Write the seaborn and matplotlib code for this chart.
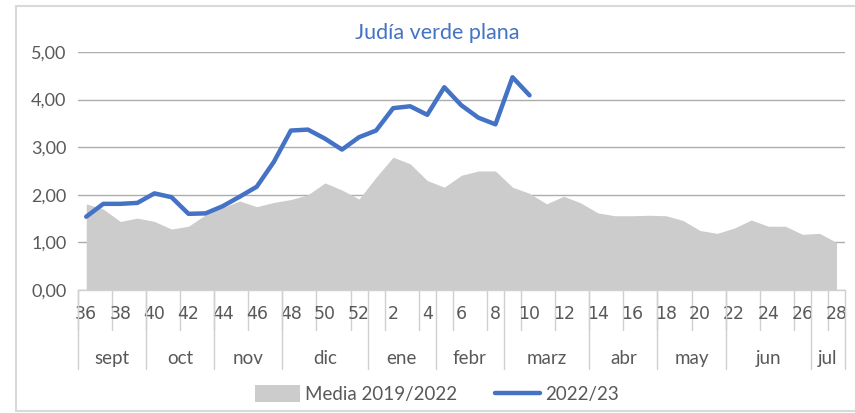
import numpy as np
import pandas as pd
import matplotlib
matplotlib.use("Agg")
import matplotlib.pyplot as plt
import matplotlib.transforms as mtransforms
from matplotlib.patches import Patch
from matplotlib.lines import Line2D
import seaborn as sns

# -------------------- datos --------------------
semanas = [36, 37, 38, 39, 40, 41, 42, 43, 44, 45, 46, 47, 48, 49, 50, 51, 52,
           1, 2, 3, 4, 5, 6, 7, 8, 9, 10, 11, 12, 13, 14, 15, 16, 17, 18, 19, 20,
           21, 22, 23, 24, 25, 26, 27, 28]

media_2019_2022 = [1.81, 1.70, 1.44, 1.51, 1.44, 1.28, 1.34, 1.58, 1.73, 1.87,
                   1.75, 1.84, 1.90, 2.00, 2.25, 2.10, 1.91, 2.37, 2.79, 2.65,
                   2.30, 2.16, 2.41, 2.50, 2.50, 2.16, 2.03, 1.81, 1.97, 1.83,
                   1.62, 1.56, 1.56, 1.57, 1.56, 1.46, 1.25, 1.19, 1.30, 1.47,
                   1.34, 1.34, 1.17, 1.19, 1.00]

campana_2022_23 = [1.54, 1.81, 1.81, 1.83, 2.03, 1.95, 1.60, 1.61, 1.76, 1.96,
                   2.17, 2.69, 3.35, 3.37, 3.18, 2.95, 3.21, 3.35, 3.82, 3.86,
                   3.68, 4.26, 3.88, 3.62, 3.48, 4.47, 4.09]

meses = ['sept', 'oct', 'nov', 'dic', 'ene', 'febr', 'marz', 'abr', 'may', 'jun', 'jul']
semanas_por_mes = [4, 4, 4, 5, 4, 4, 5, 4, 4, 5, 2]

GRIS = '#CCCCCC'
AZUL = '#4472C4'
TEXTO = '#595959'

sns.set_theme(style='white')
plt.rcParams['font.family'] = ['Lato', 'DejaVu Sans']

df = pd.DataFrame({'idx': np.arange(len(semanas)), 'media': media_2019_2022})
df_act = pd.DataFrame({'idx': np.arange(len(campana_2022_23)), 'precio': campana_2022_23})

fig = plt.figure(figsize=(8.55, 4.13), dpi=100)
ax = fig.add_axes([77.7 / 855, 123 / 413, (845 - 77.7) / 855, 238 / 413])

ax.fill_between(df['idx'], df['media'], 0, color=GRIS, lw=0, zorder=1)
sns.lineplot(data=df_act, x='idx', y='precio', color=AZUL, lw=3.2, ax=ax, zorder=3,
             solid_capstyle='round')

ax.set_xlim(-0.5, len(semanas) - 0.5)
ax.set_ylim(0, 5)
ax.set_yticks(np.arange(0, 5.01, 1))
ax.set_yticklabels([f'{v:.2f}'.replace('.', ',') for v in np.arange(0, 5.01, 1)],
                   fontsize=13, color=TEXTO)
ax.tick_params(axis='y', length=0, pad=8)
ax.grid(axis='y', color='#ADADAD', lw=1.0, zorder=0)
ax.set_axisbelow(True)
for s in ['left', 'right', 'top']:
    ax.spines[s].set_visible(False)
ax.spines['bottom'].set_color('#D0D0D0')
ax.spines['bottom'].set_linewidth(1.0)
ax.set_xlabel('')
ax.set_ylabel('')

# etiquetas de semana cada dos
ax.set_xticks(np.arange(0, len(semanas), 2))
ax.set_xticklabels([str(semanas[i]) for i in range(0, len(semanas), 2)],
                   fontsize=12.5, color=TEXTO, family=['Liberation Sans Narrow', 'DejaVu Sans'])
ax.tick_params(axis='x', length=0, pad=11)
ax.set_xticks(np.arange(-0.5, len(semanas), 1), minor=True)
ax.tick_params(axis='x', which='minor', length=4, color='#D0D0D0', width=1.0)

trans = mtransforms.blended_transform_factory(ax.transData, ax.transAxes)
# lineas largas cada dos semanas
for i in range(0, len(semanas), 2):
    ax.plot([i - 0.5, i - 0.5], [0, -0.168], transform=trans, color='#D0D0D0',
            lw=1.0, clip_on=False, zorder=0)
# separadores de mes y etiquetas
lim = np.concatenate([[0], np.cumsum(semanas_por_mes)]) - 0.5
for k, mes in enumerate(meses):
    ax.plot([lim[k], lim[k]], [0, -0.332], transform=trans, color='#D0D0D0',
            lw=1.0, clip_on=False)
    ax.text((lim[k] + lim[k + 1]) / 2, -0.286, mes, transform=trans, ha='center',
            va='center', fontsize=13.5, color=TEXTO)
ax.plot([lim[-1], lim[-1]], [0, -0.332], transform=trans, color='#D0D0D0',
        lw=1.0, clip_on=False)

fig.text(437 / 855, 1 - 33 / 413, 'Judía verde plana', ha='center', va='center',
         fontsize=15.5, color=AZUL)

handles = [Patch(facecolor=GRIS, edgecolor='none', label='Media 2019/2022'),
           Line2D([0], [0], color=AZUL, lw=3.2, label='2022/23')]
fig.legend(handles=handles, loc='center', bbox_to_anchor=(437 / 855, 1 - 394 / 413),
           ncol=2, frameon=False, fontsize=13.5, handlelength=2.4, handleheight=1.0,
           columnspacing=2.0, handletextpad=0.3, labelcolor=TEXTO)

# marco exterior
fig.add_artist(Line2D([16 / 855, 16 / 855], [1 - 411 / 413, 1 - 6 / 413], color='#D9D9D9', lw=1.5))
fig.add_artist(Line2D([16 / 855, 1.0], [1 - 6 / 413, 1 - 6 / 413], color='#D9D9D9', lw=1.5))
fig.add_artist(Line2D([16 / 855, 1.0], [1 - 411 / 413, 1 - 411 / 413], color='#D9D9D9', lw=1.5))

fig.savefig('out.png', dpi=100)
